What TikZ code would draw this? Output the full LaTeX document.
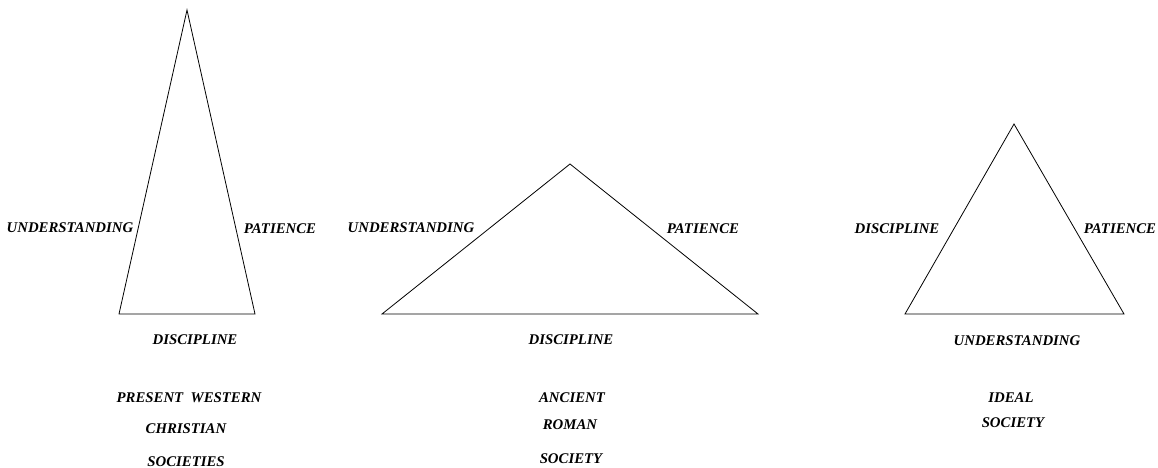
\documentclass[tikz,border=0pt]{standalone}
\usepackage{fontspec}
\setmainfont{Liberation Serif}
\begin{document}
\begin{tikzpicture}[x=1pt,y=-1pt,
  lbl/.style={font=\fontsize{14.8}{16}\selectfont\bfseries\itshape, inner sep=0pt, anchor=center},
  edge/.style={draw=black, line width=0.8pt, line join=miter}]
\useasboundingbox (0,0) rectangle (1158,468);
% triangle 1
\coordinate (a1) at (187,10);
\coordinate (b1) at (119,314);
\coordinate (c1) at (255,314);
\draw[edge] (a1) -- (b1) -- (c1) -- cycle;
\node[lbl] (u1) at (70,228) {UNDERSTANDING};
\node[lbl] (p1) at (280,229) {PATIENCE};
\node[lbl] (d1) at (195,340) {DISCIPLINE};
\node[lbl] (t1a) at (189,398) {PRESENT\ \ WESTERN};
\node[lbl] (t1b) at (186,429) {CHRISTIAN};
\node[lbl] (t1c) at (186,462) {SOCIETIES};
% triangle 2
\coordinate (a2) at (570,164);
\coordinate (b2) at (382,314);
\coordinate (c2) at (758,314);
\draw[edge] (a2) -- (b2) -- (c2) -- cycle;
\node[lbl] (u2) at (411,228) {UNDERSTANDING};
\node[lbl] (p2) at (703,229) {PATIENCE};
\node[lbl] (d2) at (571,340) {DISCIPLINE};
\node[lbl] (t2a) at (572,398) {ANCIENT};
\node[lbl] (t2b) at (570,425) {ROMAN};
\node[lbl] (t2c) at (571,459) {SOCIETY};
% triangle 3
\coordinate (a3) at (1014,124);
\coordinate (b3) at (905,314);
\coordinate (c3) at (1124,314);
\draw[edge] (a3) -- (b3) -- (c3) -- cycle;
\node[lbl] (d3) at (897,229) {DISCIPLINE};
\node[lbl] (p3) at (1120,229) {PATIENCE};
\node[lbl] (u3) at (1017,341) {UNDERSTANDING};
\node[lbl] (t3a) at (1011,398) {IDEAL};
\node[lbl] (t3b) at (1013,423) {SOCIETY};
\end{tikzpicture}
\end{document}
